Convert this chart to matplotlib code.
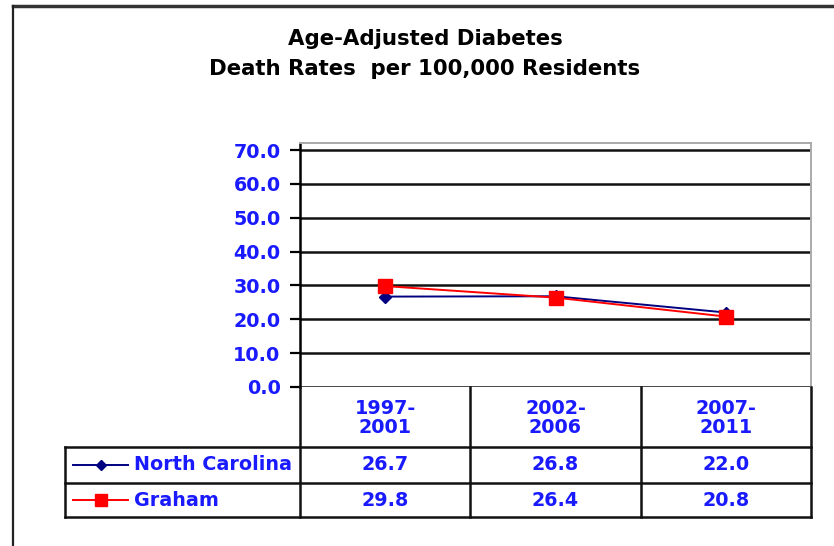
import matplotlib
matplotlib.use("Agg")
import matplotlib.pyplot as plt
from matplotlib.lines import Line2D

# data
periods = ["1997-\n2001", "2002-\n2006", "2007-\n2011"]
nc_rates = [26.7, 26.8, 22.0]
graham_rates = [29.8, 26.4, 20.8]
series_names = ["North Carolina", "Graham"]
y_ticks = [0, 10, 20, 30, 40, 50, 60, 70]

W, H = 834, 546
blue = "#1a1aff"
navy = "#000080"
red = "#ff0000"
fs = 13.8

fig = plt.figure(figsize=(W / 100, H / 100), dpi=100)


def box(x0, y0, x1, y1):
    # pixel box -> figure fraction rect
    return [x0 / W, 1 - y1 / H, (x1 - x0) / W, (y1 - y0) / H]


# outer frame (top and left edges only are visible)
fig.add_artist(Line2D([13 / W, 1], [1 - 6 / H, 1 - 6 / H], color="#333333", lw=2.5))
fig.add_artist(Line2D([13 / W, 13 / W], [0, 1 - 6 / H], color="#222222", lw=1.6))

# title
title_kw = dict(ha="center", va="baseline", fontsize=15.3, fontweight="bold")
fig.text(425 / W, 1 - 45 / H, "Age-Adjusted Diabetes", **title_kw)
fig.text(425 / W, 1 - 75 / H, "Death Rates  per 100,000 Residents", **title_kw)

# plot area
ax = fig.add_axes(box(300, 143, 811, 387))
x = list(range(len(periods)))
ax.set_xlim(-0.5, len(periods) - 0.5)
ax.set_ylim(0, 70 * 244 / 237)
ax.set_yticks(y_ticks)
ax.set_yticklabels([f"{v:.1f}" for v in y_ticks], color=blue, fontsize=fs,
                   fontweight="bold")
ax.tick_params(axis="y", length=7, width=1.6, color="black", pad=7)
ax.set_xticks([])
for v in y_ticks:
    ax.axhline(v, color="#111111", lw=1.8, zorder=1)
for s in ["top", "right"]:
    ax.spines[s].set_color("#aaaaaa")
    ax.spines[s].set_linewidth(1.4)
ax.spines["bottom"].set_visible(False)
ax.spines["left"].set_color("black")
ax.spines["left"].set_linewidth(1.8)

ax.plot(x, nc_rates, color=navy, lw=1.4, marker="D", markersize=6, zorder=3)
ax.plot(x, graham_rates, color=red, lw=1.4, marker="s", markersize=9.5, zorder=4)

# data table below the plot
tab = fig.add_axes(box(65, 387, 811, 517))
left = -0.5 - 235 / (511 / 3)
tab.set_xlim(left, len(periods) - 0.5)
tab.set_ylim(130, 0)
tab.axis("off")

rows = [0, 60, 96, 130]
bounds = [i - 0.5 for i in range(len(periods) + 1)]
lk = dict(color="#111111", lw=1.8, solid_capstyle="projecting", clip_on=False)
for b in bounds:
    tab.plot([b, b], [rows[0], rows[3]], **lk)
tab.plot([left, left], [rows[1], rows[3]], **lk)
for r in rows[1:]:
    tab.plot([left, bounds[-1]], [r, r], **lk)

for i, p in enumerate(periods):
    tab.text(i, (rows[0] + rows[1]) / 2 + 1, p, ha="center", va="center",
             color=blue, fontsize=fs, fontweight="bold", linespacing=1.0)
    tab.text(i, (rows[1] + rows[2]) / 2, f"{nc_rates[i]:.1f}", ha="center",
             va="center", color=blue, fontsize=fs, fontweight="bold")
    tab.text(i, (rows[2] + rows[3]) / 2, f"{graham_rates[i]:.1f}", ha="center",
             va="center", color=blue, fontsize=fs, fontweight="bold")

# legend keys inside table
px = 511 / 3
kx0 = -0.5 + (73 - 300) / px
kx1 = -0.5 + (128 - 300) / px
kxm = (kx0 + kx1) / 2
tx = -0.5 + (134 - 300) / px
styles = [(navy, "D", 5.5), (red, "s", 9)]
for j, (name, (c, m, ms)) in enumerate(zip(series_names, styles)):
    yc = (rows[j + 1] + rows[j + 2]) / 2
    tab.plot([kx0, kx1], [yc, yc], color=c, lw=1.4)
    tab.plot([kxm], [yc], color=c, marker=m, markersize=ms)
    tab.text(tx, yc, name, ha="left", va="center", color=blue, fontsize=fs,
             fontweight="bold")

fig.savefig("out.png", dpi=100)
